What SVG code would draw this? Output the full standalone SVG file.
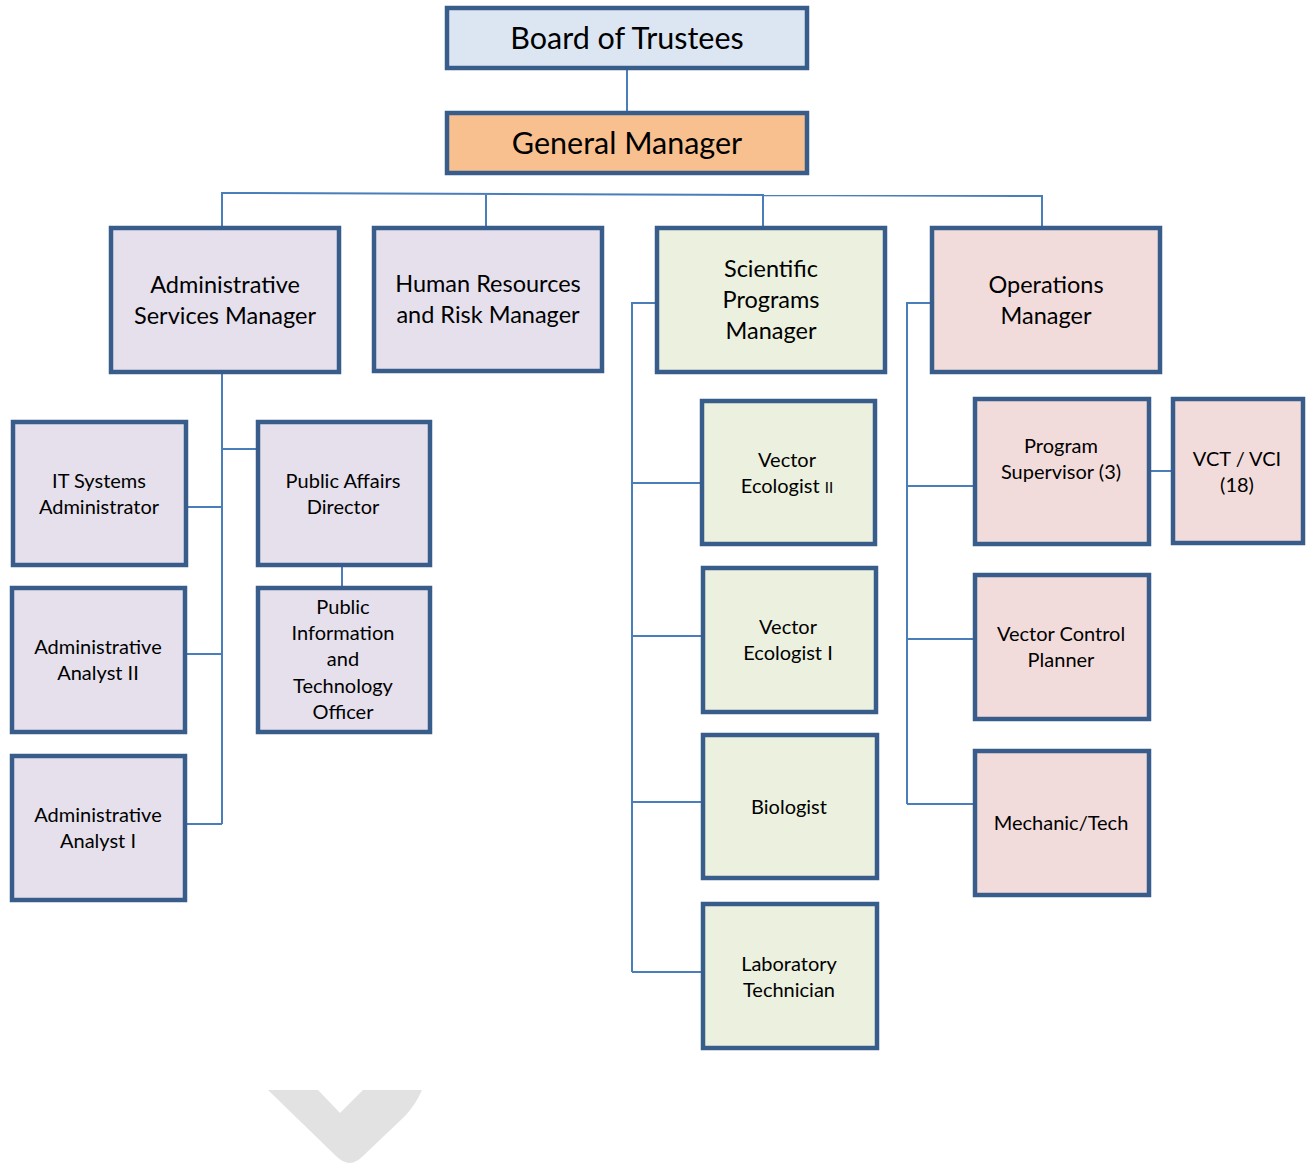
<svg xmlns="http://www.w3.org/2000/svg" width="1313" height="1164" viewBox="0 0 1313 1164">
<style>
.b{stroke:#385d8a;stroke-width:4.5}
.t{font-family:Lato,"Open Sans","Liberation Sans",sans-serif;fill:#000;text-anchor:middle}
.xl{font-size:30.5px}
.l{font-size:23.5px}
.s{font-size:20px}
.c{fill:none;stroke:#4a7ebb;stroke-width:2}
.blue{fill:#dce6f2}.or{fill:#f9c08f}.pu{fill:#e5e0ec}.gr{fill:#ebf1de}.pk{fill:#f2dcdb}
</style>
<rect width="1313" height="1164" fill="#fff"/>
<g id="connectors">
<path class="c" d="M627 70V111"/>
<path class="c" d="M222 226V193L1042 196V226M486 193V226M763 194V226"/>
<path class="c" d="M222 374V824M188 507H222M222 449H256M342 567V586M187 654H222M187 824H222"/>
<path class="c" d="M655 303H632V972M632 483H700M632 636H701M632 802H701M632 972H701"/>
<path class="c" d="M930 303H907V804M907 486H973M1151 471H1171M907 639H973M907 804H973"/>
</g>
<g id="board"><rect class="b blue" x="447" y="8" width="360" height="60"/><text class="t xl" x="627" y="49">Board of Trustees</text></g>
<g id="gm"><rect class="b or" x="447" y="113" width="360" height="60"/><text class="t xl" x="627" y="154">General Manager</text></g>
<g id="asm"><rect class="b pu" x="111" y="228" width="228" height="144"/><text class="t l" x="225" y="293">Administrative</text><text class="t l" x="225" y="324">Services Manager</text></g>
<g id="hr"><rect class="b pu" x="374" y="228" width="228" height="143"/><text class="t l" x="488" y="292">Human Resources</text><text class="t l" x="488" y="323">and Risk Manager</text></g>
<g id="spm"><rect class="b gr" x="657" y="228" width="228" height="144"/><text class="t l" x="771" y="277">Scientific</text><text class="t l" x="771" y="308">Programs</text><text class="t l" x="771" y="339">Manager</text></g>
<g id="ops"><rect class="b pk" x="932" y="228" width="228" height="144"/><text class="t l" x="1046" y="293">Operations</text><text class="t l" x="1046" y="324">Manager</text></g>
<g id="itsa"><rect class="b pu" x="13" y="422" width="173" height="143"/><text class="t s" x="99" y="488">IT Systems</text><text class="t s" x="99" y="514">Administrator</text></g>
<g id="pad"><rect class="b pu" x="258" y="422" width="172" height="143"/><text class="t s" x="343" y="488">Public Affairs</text><text class="t s" x="343" y="514">Director</text></g>
<g id="pio"><rect class="b pu" x="258" y="588" width="172" height="144"/><text class="t s" x="343" y="614">Public</text><text class="t s" x="343" y="640">Information</text><text class="t s" x="343" y="666">and</text><text class="t s" x="343" y="693">Technology</text><text class="t s" x="343" y="719">Officer</text></g>
<g id="aa2"><rect class="b pu" x="12" y="588" width="173" height="144"/><text class="t s" x="98" y="654">Administrative</text><text class="t s" x="98" y="680">Analyst II</text></g>
<g id="aa1"><rect class="b pu" x="12" y="756" width="173" height="144"/><text class="t s" x="98" y="822">Administrative</text><text class="t s" x="98" y="848">Analyst I</text></g>
<g id="ve2"><rect class="b gr" x="702" y="401" width="173" height="143"/><text class="t s" x="787" y="467">Vector</text><text class="t s" x="787" y="493">Ecologist <tspan font-size="15">II</tspan></text></g>
<g id="ve1"><rect class="b gr" x="703" y="568" width="173" height="144"/><text class="t s" x="788" y="634">Vector</text><text class="t s" x="788" y="660">Ecologist I</text></g>
<g id="bio"><rect class="b gr" x="703" y="735" width="174" height="143"/><text class="t s" x="789" y="814">Biologist</text></g>
<g id="lab"><rect class="b gr" x="703" y="904" width="174" height="144"/><text class="t s" x="789" y="971">Laboratory</text><text class="t s" x="789" y="997">Technician</text></g>
<g id="ps"><rect class="b pk" x="975" y="399" width="174" height="145"/><text class="t s" x="1061" y="453">Program</text><text class="t s" x="1061" y="479">Supervisor (3)</text></g>
<g id="vct"><rect class="b pk" x="1173" y="399" width="130" height="144"/><text class="t s" x="1237" y="466">VCT / VCI</text><text class="t s" x="1237" y="492">(18)</text></g>
<g id="vcp"><rect class="b pk" x="975" y="575" width="174" height="144"/><text class="t s" x="1061" y="641">Vector Control</text><text class="t s" x="1061" y="667">Planner</text></g>
<g id="mech"><rect class="b pk" x="975" y="751" width="174" height="144"/><text class="t s" x="1061" y="830">Mechanic/Tech</text></g>
<path id="chevron" d="M268 1090H318L340 1113L363 1090H422Q416 1104 405 1116L364 1155Q356 1163 350 1163Q343 1163 336 1156Z" fill="#e2e2e2"/>
</svg>
